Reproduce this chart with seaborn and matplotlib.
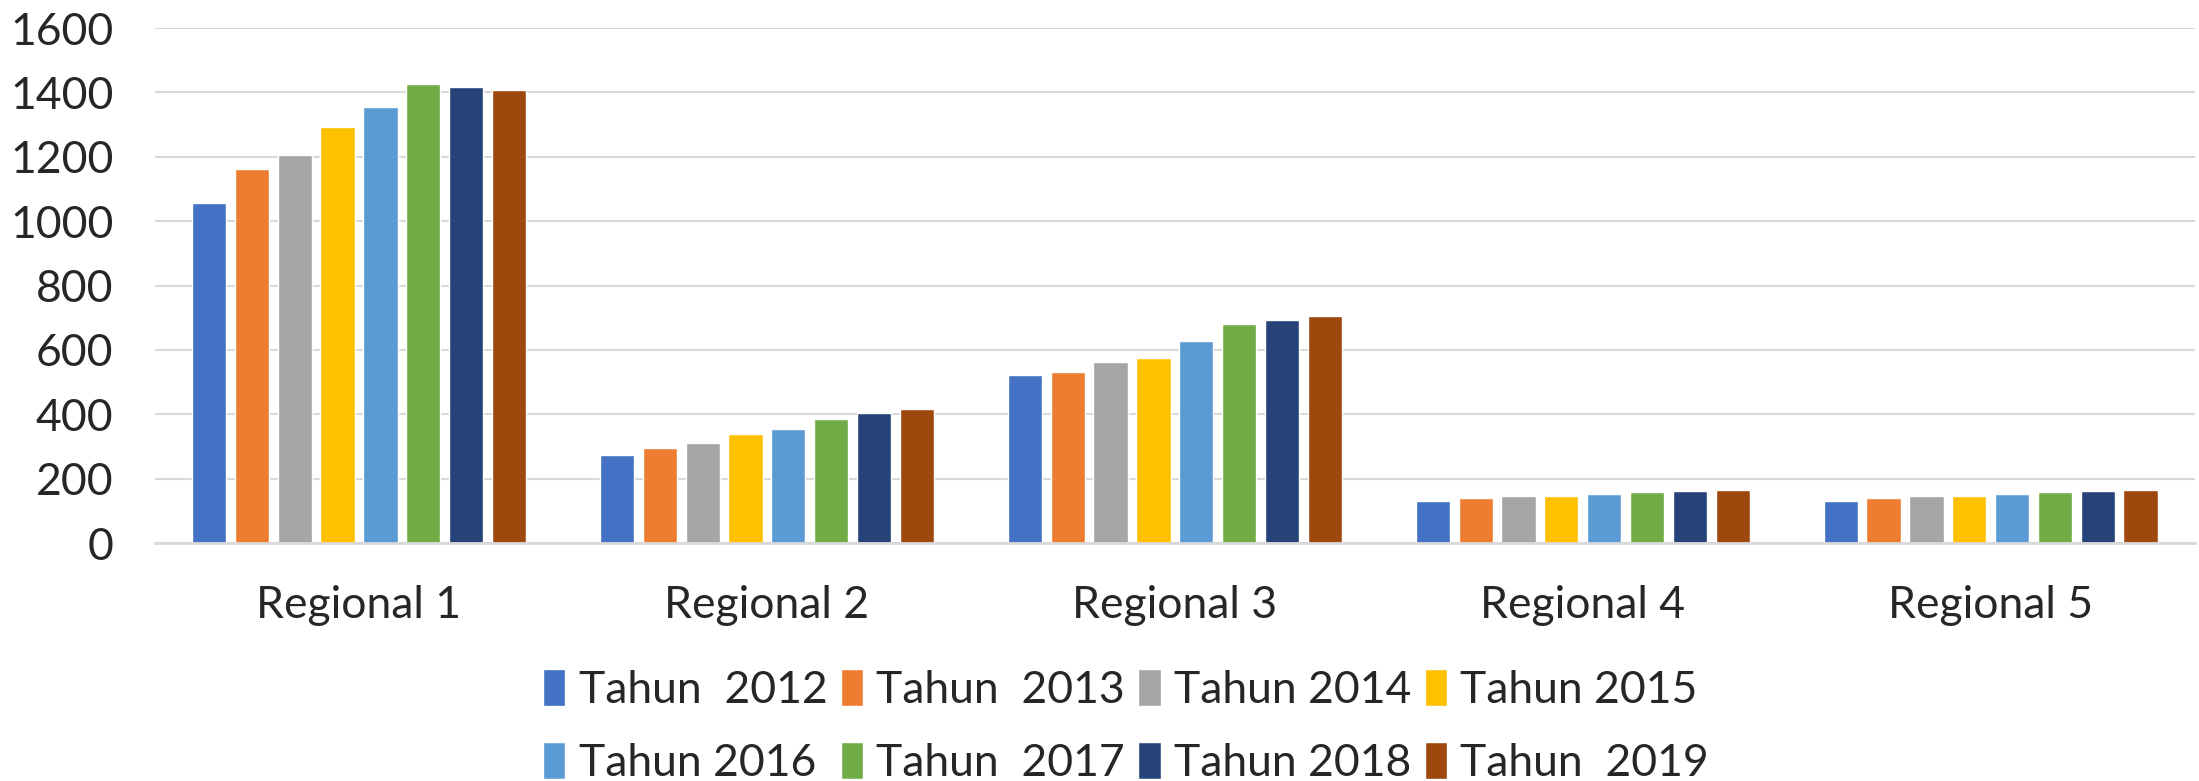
import numpy as np
import pandas as pd
import seaborn as sns
import matplotlib.pyplot as plt

# data
regions = ["Regional 1", "Regional 2", "Regional 3", "Regional 4", "Regional 5"]
years = ["Tahun  2012", "Tahun  2013", "Tahun 2014", "Tahun 2015",
         "Tahun 2016", "Tahun  2017", "Tahun 2018", "Tahun  2019"]

th2012 = [1056, 275, 523, 132, 132]
th2013 = [1161, 295, 530, 139, 139]
th2014 = [1206, 312, 562, 147, 147]
th2015 = [1293, 339, 574, 147, 147]
th2016 = [1354, 353, 629, 151, 151]
th2017 = [1425, 384, 682, 157, 157]
th2018 = [1418, 404, 694, 161, 161]
th2019 = [1409, 415, 704, 165, 165]

series = [th2012, th2013, th2014, th2015, th2016, th2017, th2018, th2019]
colors = ["#4472C4", "#ED7D31", "#A5A5A5", "#FFC000",
          "#5B9BD5", "#70AD47", "#264478", "#9E480E"]

rows = []
for year, vals in zip(years, series):
    for reg, v in zip(regions, vals):
        rows.append({"region": reg, "tahun": year, "nilai": v})
df = pd.DataFrame(rows)

sns.set_style("white")
plt.rcParams["font.family"] = ["Lato", "DejaVu Sans"]

fig = plt.figure(figsize=(21.99, 7.81), dpi=100)
ax = fig.add_axes([0.0705, 0.3047, 0.9275, 0.6594])

sns.barplot(data=df, x="region", y="nilai", hue="tahun", hue_order=years,
            palette=colors, width=0.84, gap=0.2, saturation=1,
            errorbar=None, ax=ax)

ax.set_ylim(0, 1600)
ax.set_xlim(-0.5, 4.5)
ax.set_yticks(range(0, 1601, 200))
ax.yaxis.grid(True, color="#D9D9D9", linewidth=1.5)
ax.set_axisbelow(True)
for s in ["top", "right", "left"]:
    ax.spines[s].set_visible(False)
ax.spines["bottom"].set_color("#D9D9D9")
ax.spines["bottom"].set_linewidth(2)
ax.tick_params(axis="y", length=0, labelsize=32, pad=30)
ax.tick_params(axis="x", length=0, labelsize=32, pad=30)
ax.set_xlabel("")
ax.set_ylabel("")

# legend filled row by row (matplotlib fills by column)
handles, labels = ax.get_legend_handles_labels()
order = [0, 4, 1, 5, 2, 6, 3, 7]
ax.legend([handles[i] for i in order], [labels[i] for i in order],
          loc="upper center", bbox_to_anchor=(0.476, -0.185), ncol=4,
          frameon=False, fontsize=32, handlelength=0.5, handleheight=0.9,
          handletextpad=0.3, columnspacing=0.3, labelspacing=0.7,
          borderpad=0.2)

fig.savefig("out.png", dpi=100)
